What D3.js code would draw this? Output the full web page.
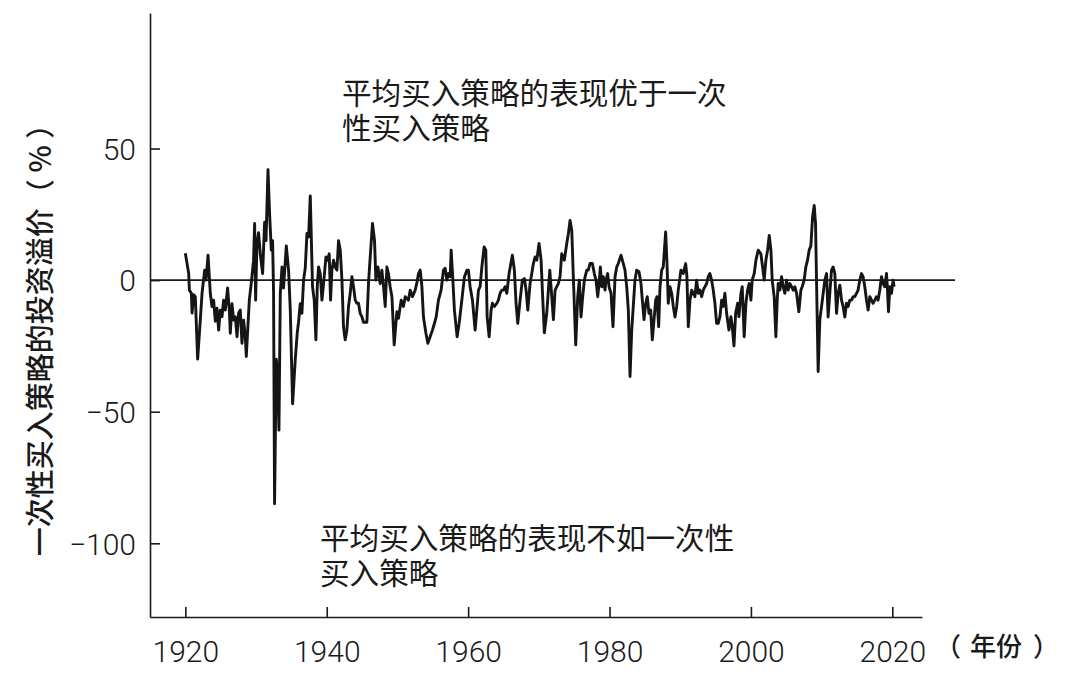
<!DOCTYPE html>
<html lang="zh">
<head>
  <meta charset="UTF-8">
  <title>一次性买入策略的投资溢价</title>
  <script src="https://d3js.org/d3.v7.min.js"></script>
  <style>
    body { margin: 0; background: #fff; }
    svg { display: block; }
    .tick text { font-family: Roboto, "Liberation Sans", sans-serif; font-weight: 300; font-size: 30px; fill: #1a1a1a; }
    .cjk { font-family: "Noto Sans CJK SC", sans-serif; fill: #1a1a1a; }
  </style>
</head>
<body>
  <svg id="chart"></svg>

  <script>
    // 时间点（年，月度近似）与对应的溢价（%）
    const years = [
      1920.00, 1920.47, 1920.57, 1920.85, 1920.95, 1921.17, 1921.41, 1921.74, 1922.12, 1922.36,
      1922.73, 1922.93, 1923.21, 1923.53, 1923.77, 1924.00, 1924.24, 1924.48, 1924.71, 1924.95,
      1925.19, 1925.41, 1925.65, 1925.98, 1926.22, 1926.36, 1926.60, 1926.83, 1927.07, 1927.31,
      1927.53, 1927.77, 1928.01, 1928.24, 1928.48, 1928.62, 1929.05, 1929.33, 1929.65, 1929.80,
      1929.94, 1930.13, 1930.36, 1930.60, 1930.93, 1931.21, 1931.41, 1931.69, 1931.92, 1932.16,
      1932.34, 1932.48, 1932.62, 1932.86, 1933.05, 1933.24, 1933.43, 1933.67, 1933.89, 1934.28,
      1934.60, 1934.84, 1935.17, 1935.55, 1935.83, 1936.01, 1936.25, 1936.49, 1936.72, 1936.96,
      1937.20, 1937.43, 1937.67, 1937.81, 1937.99, 1938.23, 1938.47, 1938.66, 1938.84, 1939.08,
      1939.32, 1939.55, 1939.89, 1940.11, 1940.35, 1940.54, 1940.73, 1940.96, 1941.20, 1941.44,
      1941.67, 1941.91, 1942.15, 1942.37, 1942.61, 1942.85, 1943.08, 1943.32, 1943.56, 1943.79,
      1944.03, 1944.27, 1944.49, 1944.73, 1944.97, 1945.20, 1945.68, 1945.91, 1946.15, 1946.47,
      1946.76, 1946.95, 1947.24, 1947.56, 1947.80, 1948.03, 1948.27, 1948.51, 1948.73, 1948.97,
      1949.22, 1949.54, 1949.92, 1950.15, 1950.53, 1950.85, 1951.10, 1951.56, 1951.80, 1952.13,
      1952.51, 1952.75, 1952.98, 1953.22, 1953.46, 1953.68, 1954.02, 1954.30, 1954.63, 1954.95,
      1955.24, 1955.48, 1955.80, 1956.18, 1956.51, 1956.75, 1956.99, 1957.22, 1957.46, 1957.60,
      1957.84, 1958.06, 1958.44, 1958.73, 1959.11, 1959.48, 1959.82, 1960.04, 1960.28, 1960.61,
      1960.99, 1961.23, 1961.46, 1961.70, 1961.94, 1962.26, 1962.50, 1962.69, 1962.97, 1963.25,
      1963.43, 1963.72, 1964.06, 1964.28, 1964.52, 1964.76, 1964.99, 1965.23, 1965.47, 1965.79,
      1966.26, 1966.54, 1966.78, 1967.02, 1967.35, 1967.67, 1967.96, 1968.20, 1968.44, 1968.76,
      1969.00, 1969.23, 1969.47, 1969.71, 1970.03, 1970.32, 1970.50, 1970.78, 1971.12, 1971.35,
      1971.55, 1971.83, 1972.06, 1972.30, 1972.54, 1972.76, 1973.00, 1973.24, 1973.61, 1973.95,
      1974.18, 1974.42, 1974.66, 1974.88, 1975.22, 1975.50, 1975.73, 1975.97, 1976.16, 1976.44,
      1976.78, 1977.00, 1977.24, 1977.57, 1977.85, 1978.09, 1978.33, 1978.52, 1978.70, 1978.90,
      1979.12, 1979.36, 1979.50, 1979.74, 1979.93, 1980.21, 1980.49, 1980.78, 1981.02, 1981.24,
      1981.62, 1981.95, 1982.19, 1982.43, 1982.66, 1982.90, 1983.14, 1983.36, 1983.60, 1983.84,
      1984.17, 1984.45, 1984.64, 1984.88, 1985.12, 1985.34, 1985.58, 1985.82, 1986.05, 1986.33,
      1986.53, 1986.71, 1986.95, 1987.14, 1987.38, 1987.60, 1987.94, 1988.13, 1988.31, 1988.55,
      1988.79, 1989.02, 1989.26, 1989.50, 1989.72, 1990.10, 1990.43, 1990.77, 1990.95, 1991.14,
      1991.38, 1991.62, 1991.84, 1992.08, 1992.32, 1992.55, 1992.79, 1993.03, 1993.26, 1993.50,
      1993.74, 1993.96, 1994.20, 1994.44, 1994.67, 1994.91, 1995.15, 1995.38, 1995.62, 1995.86,
      1996.08, 1996.32, 1996.56, 1996.89, 1997.17, 1997.36, 1997.60, 1997.84, 1998.12, 1998.30,
      1998.59, 1998.77, 1999.05, 1999.29, 1999.53, 1999.76, 2000.00, 2000.18, 2000.47, 2000.71,
      2001.03, 2001.41, 2001.65, 2001.88, 2002.12, 2002.36, 2002.59, 2002.83, 2003.01, 2003.29,
      2003.53, 2003.72, 2003.86, 2004.10, 2004.34, 2004.56, 2004.80, 2005.04, 2005.27, 2005.51,
      2005.75, 2005.98, 2006.22, 2006.46, 2006.78, 2007.07, 2007.25, 2007.53, 2007.77, 2008.01,
      2008.24, 2008.48, 2008.72, 2008.95, 2009.14, 2009.28, 2009.51, 2009.75, 2009.99, 2010.22,
      2010.46, 2010.70, 2010.92, 2011.16, 2011.40, 2011.63, 2011.87, 2012.11, 2012.34, 2012.58,
      2012.82, 2013.04, 2013.28, 2013.52, 2013.75, 2013.99, 2014.23, 2014.46, 2014.70, 2014.94,
      2015.16, 2015.40, 2015.64, 2015.87, 2016.11, 2016.35, 2016.58, 2016.82, 2017.06, 2017.28,
      2017.52, 2017.76, 2017.99, 2018.23, 2018.47, 2018.70, 2018.94, 2019.18, 2019.32, 2019.46,
      2019.65, 2019.89, 2020.11, 2020.25
    ];

    const premium = [
      10.2, 2.6, -3.8, -5, -12.5, -5.5, -6.3, -30, -15, -5,
      3.8, 0, 9.5, -5, -10, -7.6, -15.6, -10.7, -19, -11.4,
      -13.9, -7.6, -11.4, -3, -11.4, -20.2, -9, -15.2, -13.9, -21.5,
      -12.6, -11.4, -24, -15.2, -21.5, -29, -7.6, -1, 7.6, 21.5,
      -7.6, 14, 18, 10, 2.5, 22, 15, 42, 25, 11.4,
      15, -5, -85, -30, -35, -57, -5, 5, -3, 13,
      3.8, -11, -47, -30, -20, -16, -9, -12.6, 0, 4.5,
      17.7, 16.4, 32, 17, -2.5, -7.6, -22.7, -2.5, 5, 2.5,
      -7.6, -1.3, 8.8, 7.6, 10, -7.6, 3.8, 7.6, 5, 3.8,
      15, 11.4, 0, -17.7, -22.7, -19, -10, -5, 1.3, -2.5,
      -7.6, -8.8, -8.8, -12.6, -13.9, -16, -16, -1, 8.8, 21.5,
      15, 0, 5, -1.3, 3.8, -2.5, -10, 5, 2.5, -2.5,
      -6.3, -24.6, -12, -14.5, -7.6, -10, -6.3, -7.6, -3.8, -6.3,
      -3.8, -1, 2.5, 3.8, -2.5, -14, -20, -24, -21.5, -19,
      -16.4, -14, -7.6, -3.8, 3.8, 4.5, 0, 2.5, 1.3, 11.4,
      0, -11.4, -21.5, -16.4, -7.6, 1.3, 3.8, 3.8, -2.5, -7.6,
      -19, -11.4, -3.8, -2.5, 5, 12.6, 11.4, -14, -21.5, -11.4,
      -8.8, -10, -8.8, -7.6, -5, -3.8, -3.8, -2.5, -5, 2.5,
      9.5, 3.8, -8.8, -16.4, -7.6, 0, 0.6, -3.8, -11.4, -1.3,
      2.5, 6.3, 8.8, 7.6, 13.9, 7.6, -3.8, -20, -12.6, -3.8,
      3.8, -6.3, -15, -3.8, -2.5, -1.3, 1.3, 10, 7.6, 13.9,
      17.7, 22.7, 18.9, 1.3, -24.6, -6.3, 0, -14, -7.6, 0,
      3.8, 3.8, 6.3, 6.3, 2.5, 0, -6.3, -1.3, 5, -2.5,
      1.3, -3.8, 0, 2.5, -2.5, -5, -17.7, 1.3, 5, 6.3,
      9.5, 6.3, 3.8, -2.5, -11.4, -36.6, -19, -10, 0, 3.8,
      3.2, -1.3, -7.6, -15, -8.8, -6.3, -12.6, -11.4, -22.7, -13.9,
      -7.6, -6.3, -17.7, -2.5, 3.8, 5, 18.3, 6.3, -8.8, -2.5,
      -5, -10, -14, -10, -3.8, 3.8, 2.5, 6.3, 1.3, -17.7,
      -7.6, -3.8, -5, -6.3, 0, -5, -3.8, -6.3, -3.8, -2.5,
      -1.3, 1.3, 2.5, 0, -3.8, -8.8, -16.4, -16.4, -13.9, -7.6,
      -10, -5, -12.6, -19, -13.9, -17.7, -25, -12.6, -8.8, -13.9,
      -5, -2.5, -21.5, -8.8, -3.8, -1.3, -7.6, 0, 2.5, 7.6,
      11.4, 10, 5, 0, 7.6, 11.4, 17, 11.4, 0, -6.3,
      -21.5, -7.6, -1.3, -3.8, 1.3, -2.5, -5, 0, -3.8, -1.3,
      -2.5, -3.8, -2.5, -5, -12, -3.8, -2.5, 0, 5, 7.6,
      11.4, 13, 24, 28.4, 21.5, 0, -34.7, -15, -10, -5,
      0, 2.5, -14, -5, 3.8, 5, 2.5, -12.6, -5, -1.9,
      -7.6, -10, -14, -8.8, -10, -7.6, -7.6, -6.3, -6.3, -5,
      -3.8, 0, 2.5, 1.3, -2.5, -7.6, -11.4, -6.3, -7.6, -8.8,
      -7.6, -6.3, -7.6, -3.8, 1.3, -1.3, -2.5, 2.5, -3.8, -12,
      -2.5, -5, 0, -2.5
    ];

    const xTicks = [1920, 1940, 1960, 1980, 2000, 2020];
    const yTicks = [50, 0, -50, -100];

    const titleY = "一次性买入策略的投资溢价（ % ）";
    const titleX = ["（", "年份", "）"];
    const noteAbove = ["平均买入策略的表现优于一次", "性买入策略"];
    const noteBelow = ["平均买入策略的表现不如一次性", "买入策略"];

    const width = 1070, height = 690;

    const svg = d3.select("#chart")
      .attr("width", width)
      .attr("height", height);

    const x = d3.scaleLinear().domain([1915, 2024.2]).range([150, 922]);
    const y = d3.scaleLinear().domain([-128, 101.5]).range([617, 13]);

    const points = years.map((yr, i) => ({ year: yr, value: premium[i] }));

    // y 轴
    const yAxis = svg.append("g")
      .attr("transform", `translate(${x.range()[0]},0)`)
      .call(d3.axisLeft(y)
        .tickValues(yTicks)
        .tickSizeInner(-10)
        .tickSizeOuter(0)
        .tickPadding(14)
        .tickFormat(d => d < 0 ? "\u2212" + Math.abs(d) : d));
    yAxis.select(".domain").attr("stroke", "#1a1a1a").attr("stroke-width", 1.6);
    yAxis.selectAll(".tick line").attr("stroke", "#1a1a1a").attr("stroke-width", 1.6);
    yAxis.selectAll(".tick text").attr("dy", "0.36em");

    // x 轴
    const xAxis = svg.append("g")
      .attr("transform", `translate(0,${y.range()[0]})`)
      .call(d3.axisBottom(x)
        .tickValues(xTicks)
        .tickSizeInner(-10)
        .tickSizeOuter(0)
        .tickFormat(d3.format("d")));
    xAxis.select(".domain").attr("stroke", "#1a1a1a").attr("stroke-width", 1.6);
    xAxis.selectAll(".tick line").attr("stroke", "#1a1a1a").attr("stroke-width", 1.6);
    xAxis.selectAll(".tick text").attr("dy", null).attr("y", 45);

    // 零线
    svg.append("line")
      .attr("x1", x.range()[0])
      .attr("x2", 955)
      .attr("y1", y(0))
      .attr("y2", y(0))
      .attr("stroke", "#1a1a1a")
      .attr("stroke-width", 1.6);

    // 溢价曲线
    const line = d3.line()
      .x(d => x(d.year))
      .y(d => y(d.value));

    svg.append("path")
      .datum(points)
      .attr("fill", "none")
      .attr("stroke", "#151515")
      .attr("stroke-width", 2.9)
      .attr("stroke-linejoin", "round")
      .attr("d", line);

    // 坐标轴标题
    svg.append("text")
      .attr("class", "cjk")
      .attr("transform", "translate(51,333) rotate(-90)")
      .attr("text-anchor", "middle")
      .style("font-size", "29px")
      .style("font-weight", 500)
      .text(titleY);

    const xTitlePos = [935, 970, 1033];
    titleX.forEach((s, i) => {
      svg.append("text")
        .attr("class", "cjk")
        .attr("x", xTitlePos[i])
        .attr("y", 656)
        .style("font-size", "26px")
        .style("font-weight", 500)
        .text(s);
    });

    // 注释（每行一个 text）
    function note(lines, x0, y0) {
      lines.forEach((s, i) => {
        svg.append("text")
          .attr("class", "cjk")
          .attr("x", x0)
          .attr("y", y0 + i * 35)
          .style("font-size", "29.6px")
          .text(s);
      });
    }
    note(noteAbove, 342, 104);
    note(noteBelow, 320, 549);
  </script>
</body>
</html>
